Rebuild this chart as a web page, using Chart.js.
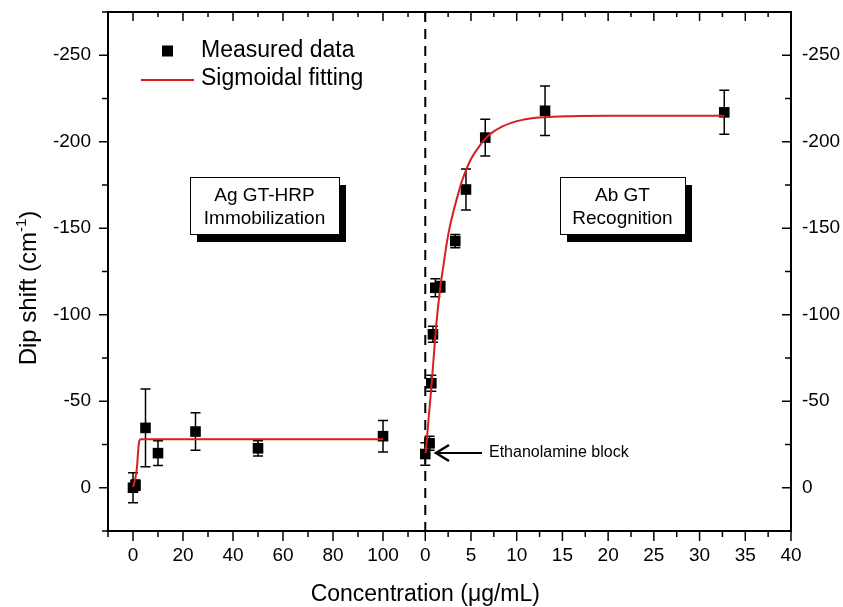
<!DOCTYPE html>
<html>
<head>
<meta charset="utf-8">
<script src="https://cdn.jsdelivr.net/npm/chart.js@4/dist/chart.umd.min.js"></script>
<style>
  html, body { margin: 0; padding: 0; background: #fff; }
  #wrap { width: 843px; height: 607px; }
</style>
</head>
<body>
<div id="wrap"><canvas id="myChart"></canvas></div>
<script>
// Stage 1: Ag GT-HRP immobilization (left part of the axis, 0-100 ug/mL)
const leftConc  = [0, 1, 5, 10, 25, 50, 100];
const leftShift = [0, -1.5, -34.6, -20, -32.5, -22.8, -29.8];
const leftErr   = [8.7, 3, 22.5, 7.2, 10.8, 4.4, 9.1];

// Stage 2: Ab GT recognition (right part of the axis, 0-40 ug/mL)
const rightConc  = [0, 0.47, 0.66, 0.84, 1.1, 1.64, 3.28, 4.45, 6.56, 13.1, 32.7];
const rightShift = [-19.5, -25.7, -60.4, -88.7, -115.6, -116.2, -142.6, -172.4, -202.4, -217.9, -217];
const rightErr   = [6.5, 4, 4.6, 4.6, 5.2, 3, 3.8, 11.9, 10.6, 14.3, 12.7];

// sigmoidal fit curves
const leftFitConc  = [0, 1, 1.6, 2, 2.5, 3.2, 100];
const leftFitShift = [-0.5, -6, -12, -20, -27, -28, -28];
const rightFitConc  = [0.05, 0.3, 0.6, 0.9, 1.2, 1.6, 2.0, 2.5, 3.0, 3.5, 4.0, 5.0, 6.0, 7.0, 8.5, 10.5, 13, 16, 20, 32.7];
const rightFitShift = [-20, -36, -54, -74, -94, -114, -129, -146, -158, -168, -177, -190, -198, -204, -209, -212.5, -214.2, -214.8, -215, -215];

// axis ticks
const leftTicks = [0, 20, 40, 60, 80, 100];
const leftMinor = [-10, 10, 30, 50, 70, 90, 110];
const rightTicks = [0, 5, 10, 15, 20, 25, 30, 35, 40];
const rightMinor = [2.5, 7.5, 12.5, 17.5, 22.5, 27.5, 32.5, 37.5];
const yTicks = [-250, -200, -150, -100, -50, 0];
const yMinor = [-275, -225, -175, -125, -75, -25, 25];

const FONT = "'Liberation Sans', Arial, sans-serif";
const RED = '#d81e1e';

// broken x axis: right part starts at X_BREAK and is stretched
const X_BREAK = 116.9;
const X_STRETCH = 3.657;
const leftU = c => c;
const rightU = c => X_BREAK + c * X_STRETCH;

function pts(xs, ys, f) {
  return xs.map((c, i) => ({ x: f(c), y: ys[i] }));
}

const xTickList = leftTicks.map(c => ({ u: leftU(c), label: String(c) }))
  .concat(rightTicks.map(c => ({ u: rightU(c), label: String(c) })));

// error bars, drawn before the squares
const errorBars = {
  id: 'errorBars',
  beforeDatasetsDraw(chart) {
    const { ctx, scales: { x, y } } = chart;
    ctx.save();
    ctx.strokeStyle = '#000';
    ctx.lineWidth = 1.5;
    const draw = (xs, ys, es, f) => {
      xs.forEach((c, i) => {
        const px = x.getPixelForValue(f(c));
        const top = y.getPixelForValue(ys[i] - es[i]);
        const bot = y.getPixelForValue(ys[i] + es[i]);
        ctx.beginPath();
        ctx.moveTo(px, top); ctx.lineTo(px, bot);
        ctx.moveTo(px - 5, top); ctx.lineTo(px + 5, top);
        ctx.moveTo(px - 5, bot); ctx.lineTo(px + 5, bot);
        ctx.stroke();
      });
    };
    draw(leftConc, leftShift, leftErr, leftU);
    draw(rightConc, rightShift, rightErr, rightU);

    // dashed separator at the second zero
    const a = chart.chartArea;
    const bx = x.getPixelForValue(rightU(0));
    ctx.lineWidth = 2;
    ctx.setLineDash([10, 7]);
    ctx.beginPath();
    ctx.moveTo(bx, a.top); ctx.lineTo(bx, a.bottom);
    ctx.stroke();
    ctx.restore();
  }
};

// frame, inner/outer tick marks, labels, legend
const decorations = {
  id: 'decorations',
  afterDraw(chart) {
    const { ctx, chartArea: a, scales: { x, y } } = chart;
    ctx.save();
    ctx.strokeStyle = '#000';
    ctx.fillStyle = '#000';

    const line = (x1, y1, x2, y2) => {
      ctx.beginPath(); ctx.moveTo(x1, y1); ctx.lineTo(x2, y2); ctx.stroke();
    };

    ctx.lineWidth = 1.5;
    const xTick = (u, len) => {
      const px = x.getPixelForValue(u);
      line(px, a.bottom, px, a.bottom + len);
      line(px, a.top, px, a.top + len - 1);
    };
    xTickList.forEach(t => xTick(t.u, 10));
    leftMinor.forEach(c => xTick(leftU(c), 6));
    rightMinor.forEach(c => xTick(rightU(c), 6));

    const yTick = (v, len) => {
      const py = y.getPixelForValue(v);
      line(a.left - len, py, a.left, py);
      line(a.right - len, py, a.right, py);
    };
    yTicks.forEach(v => yTick(v, 9));
    yMinor.forEach(v => yTick(v, 6));

    ctx.lineWidth = 2;
    ctx.strokeRect(a.left, a.top, a.right - a.left, a.bottom - a.top);

    // axis titles
    ctx.font = '23px ' + FONT;
    ctx.textAlign = 'center';
    ctx.textBaseline = 'alphabetic';
    ctx.fillText('Concentration (\u03bcg/mL)', x.getPixelForValue(rightU(0)), 601);

    ctx.save();
    ctx.translate(36, 288);
    ctx.rotate(-Math.PI / 2);
    ctx.textAlign = 'left';
    const main1 = 'Dip shift (cm', sup = '-1', main2 = ')';
    ctx.font = '24px ' + FONT;
    const w1 = ctx.measureText(main1).width, w3 = ctx.measureText(main2).width;
    ctx.font = '15px ' + FONT;
    const w2 = ctx.measureText(sup).width;
    let sx = -(w1 + w2 + w3) / 2;
    ctx.font = '24px ' + FONT;
    ctx.fillText(main1, sx, 0);
    ctx.font = '15px ' + FONT;
    ctx.fillText(sup, sx + w1, -10);
    ctx.font = '24px ' + FONT;
    ctx.fillText(main2, sx + w1 + w2, 0);
    ctx.restore();

    // legend
    ctx.textAlign = 'left';
    ctx.font = '23px ' + FONT;
    ctx.fillRect(162, 45.5, 11, 11);
    ctx.fillText('Measured data', 201, 57);
    ctx.strokeStyle = RED;
    ctx.lineWidth = 2;
    line(141, 80, 194, 80);
    ctx.fillText('Sigmoidal fitting', 201, 85);

    // text boxes with drop shadow
    const box = (bx, by, w, h, l1, l2) => {
      ctx.fillStyle = '#000';
      ctx.fillRect(bx + 7, by + 8, w, h);
      ctx.fillStyle = '#fff';
      ctx.fillRect(bx, by, w, h);
      ctx.strokeStyle = '#000';
      ctx.lineWidth = 1;
      ctx.strokeRect(bx + 0.5, by + 0.5, w, h);
      ctx.fillStyle = '#000';
      ctx.font = '19px ' + FONT;
      ctx.textAlign = 'center';
      ctx.fillText(l1, bx + w / 2, by + 24);
      ctx.fillText(l2, bx + w / 2, by + 47);
    };
    box(190, 177, 149, 57, 'Ag GT-HRP', 'Immobilization');
    box(560, 177, 125, 57, 'Ab GT', 'Recognition');

    // ethanolamine arrow
    ctx.strokeStyle = '#000';
    ctx.lineWidth = 2;
    line(482, 453, 436, 453);
    ctx.lineWidth = 2.5;
    ctx.beginPath();
    ctx.moveTo(449, 445); ctx.lineTo(436, 453); ctx.lineTo(449, 461);
    ctx.stroke();
    ctx.font = '16px ' + FONT;
    ctx.textAlign = 'left';
    ctx.fillText('Ethanolamine block', 489, 457);

    ctx.restore();
  }
};

const ctx = document.getElementById('myChart').getContext('2d');

const data = {
  datasets: [
    {
      label: 'Sigmoidal fitting',
      data: pts(leftFitConc, leftFitShift, leftU),
      showLine: true, borderColor: RED, borderWidth: 2,
      pointRadius: 0, cubicInterpolationMode: 'monotone'
    },
    {
      label: 'Sigmoidal fitting (2)',
      data: pts(rightFitConc, rightFitShift, rightU),
      showLine: true, borderColor: RED, borderWidth: 2,
      pointRadius: 0, cubicInterpolationMode: 'monotone'
    },
    {
      label: 'Measured data',
      data: pts(leftConc, leftShift, leftU),
      pointStyle: 'rect', pointRadius: 7.5,
      backgroundColor: '#000', borderColor: '#000', borderWidth: 0
    },
    {
      label: 'Measured data (2)',
      data: pts(rightConc, rightShift, rightU),
      pointStyle: 'rect', pointRadius: 7.5,
      backgroundColor: '#000', borderColor: '#000', borderWidth: 0
    }
  ]
};

const yAxis = (pos, width, pad) => ({
  type: 'linear',
  position: pos,
  min: -275, max: 25, reverse: true,
  afterBuildTicks: s => { s.ticks = yTicks.map(v => ({ value: v })); },
  ticks: { color: '#000', padding: pad, font: { family: FONT, size: 19 }, callback: v => String(v) },
  grid: { display: false, drawTicks: false },
  border: { display: false },
  afterFit: s => { s.width = width; s.paddingTop = 0; s.paddingBottom = 0; }
});

const config = {
  type: 'scatter',
  data: data,
  options: {
    responsive: true,
    maintainAspectRatio: false,
    animation: false,
    devicePixelRatio: 1,
    layout: { padding: { top: 12, left: 0, right: 0, bottom: 0 }, autoPadding: false },
    plugins: { legend: { display: false }, tooltip: { enabled: false } },
    scales: {
      x: {
        type: 'linear',
        min: -10, max: rightU(40),
        afterBuildTicks: s => { s.ticks = xTickList.map(t => ({ value: t.u })); },
        ticks: {
          color: '#000', padding: 13, autoSkip: false, maxRotation: 0,
          font: { family: FONT, size: 19 },
          callback: (v, i) => xTickList[i].label
        },
        grid: { display: false, drawTicks: false },
        border: { display: false },
        afterFit: s => { s.height = 76; s.paddingLeft = 0; s.paddingRight = 0; }
      },
      y: yAxis('left', 108, 17),
      y2: yAxis('right', 52, 11)
    }
  },
  plugins: [errorBars, decorations]
};

const theChart = new Chart(ctx, config);
</script>
</body>
</html>
